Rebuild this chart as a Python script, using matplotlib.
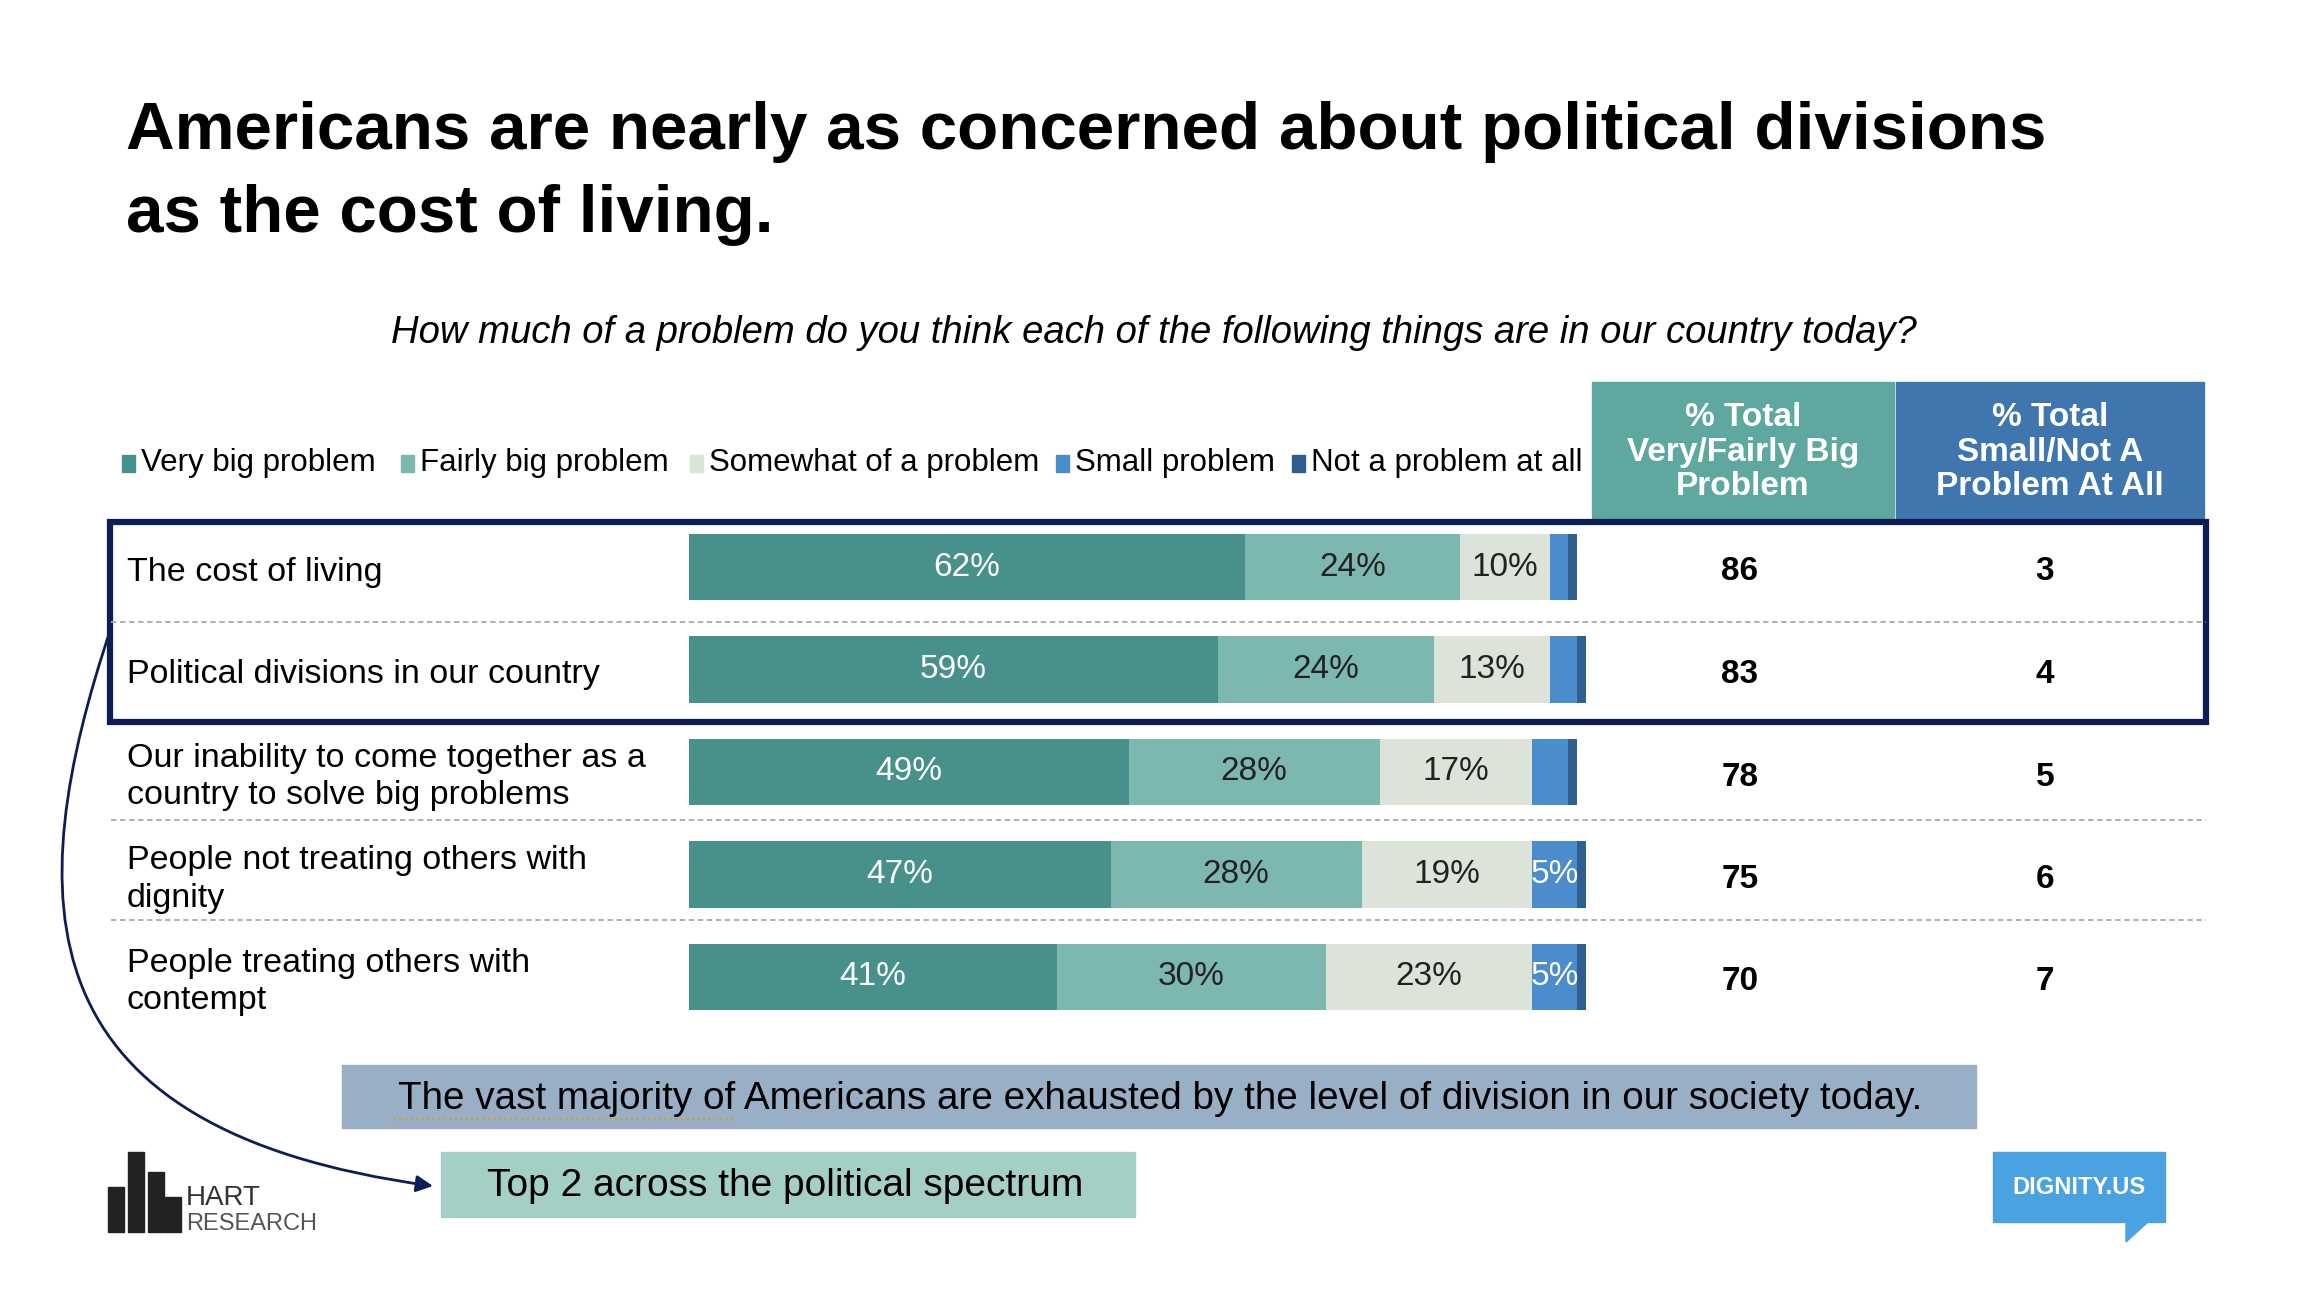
import matplotlib
matplotlib.use("Agg")
import matplotlib.pyplot as plt
from matplotlib.patches import Rectangle, FancyArrowPatch, Polygon
from matplotlib.path import Path
import numpy as np

plt.rcParams['font.family'] = ['Liberation Sans', 'DejaVu Sans']

# Data
items = ["The cost of living",
         "Political divisions in our country",
         "Our inability to come together as a\ncountry to solve big problems",
         "People not treating others with\ndignity",
         "People treating others with\ncontempt"]
series = ["Very big problem", "Fairly big problem", "Somewhat of a problem",
          "Small problem", "Not a problem at all"]
very = [62, 59, 49, 47, 41]
fairly = [24, 24, 28, 28, 30]
somewhat = [10, 13, 17, 19, 23]
small = [2, 3, 4, 5, 5]
not_at_all = [1, 1, 1, 1, 1]
total_big = [86, 83, 78, 75, 70]
total_small = [3, 4, 5, 6, 7]

colors = ["#48918a", "#7db8b0", "#dce3d8", "#4a8ccc", "#2f5f8f"]
label_colors = ["white", "#222222", "#222222", "white", "white"]

W, H = 2310, 1296
fig = plt.figure(figsize=(W / 100, H / 100), dpi=100)
ax0 = fig.add_axes([0, 0, 1, 1])
ax0.set_xlim(0, W)
ax0.set_ylim(H, 0)
ax0.axis("off")

# Title
ax0.text(126, 132, "Americans are nearly as concerned about political divisions",
         fontsize=48.5, fontweight="bold", va="center", ha="left")
ax0.text(126, 215, "as the cost of living.",
         fontsize=48.5, fontweight="bold", va="center", ha="left")
ax0.text(1154, 333, "How much of a problem do you think each of the following things are in our country today?",
         fontsize=27.5, style="italic", va="center", ha="center")

# Legend
leg_x = [122, 401, 690, 1056, 1292]
for x, s, c in zip(leg_x, series, colors):
    ax0.add_patch(Rectangle((x, 455), 13, 17, color=c))
    ax0.text(x + 19, 463, s, fontsize=22.5, va="center", ha="left")

# Header boxes
ax0.add_patch(Rectangle((1592, 382), 302, 136, color="#5fa8a0"))
ax0.add_patch(Rectangle((1896, 382), 308, 136, color="#3f76ae"))
ax0.text(1743, 452, "% Total\nVery/Fairly Big\nProblem", fontsize=24, fontweight="bold",
         color="white", ha="center", va="center", linespacing=1.15)
ax0.text(2050, 452, "% Total\nSmall/Not A\nProblem At All", fontsize=24, fontweight="bold",
         color="white", ha="center", va="center", linespacing=1.15)

# Rows
row_y = 567 + 102.5 * np.arange(len(items))
for i, (lab, y) in enumerate(zip(items, row_y)):
    ax0.text(127, y + 5, lab, fontsize=24.5, va="center", ha="left", linespacing=1.25)
    ax0.text(1740, y + 5, str(total_big[i]), fontsize=24, fontweight="bold", ha="center", va="center")
    ax0.text(2045, y + 5, str(total_small[i]), fontsize=24, fontweight="bold", ha="center", va="center")

for y in [622, 820, 920]:
    ax0.plot([111, 2206], [y, y], color="#aaaaaa", lw=1.3, ls=(0, (3, 2)))

ax0.add_patch(Rectangle((110, 522), 2096, 200, fill=False, ec="#0b1f55", lw=4.5))

# Bars
axb = fig.add_axes([689 / W, 1 - 1028 / H, (1586 - 689) / W, (1028 - 516) / H])
axb.set_xlim(0, 100)
axb.set_ylim(len(items) - 0.5, -0.5)
axb.axis("off")
yy = np.arange(len(items))
left = np.zeros(len(items))
for vals, c, lc in zip([very, fairly, somewhat, small, not_at_all], colors, label_colors):
    vals = np.array(vals, dtype=float)
    axb.barh(yy, vals, left=left, height=0.65, color=c)
    for j, v in enumerate(vals):
        if v >= 5:
            axb.text(left[j] + v / 2, yy[j], f"{int(v)}%", color=lc, fontsize=24,
                     ha="center", va="center")
    left += vals

# Bottom banner
ax0.add_patch(Rectangle((342, 1065), 1634, 63, color="#99afc6"))
ax0.text(1160, 1099, "The vast majority of Americans are exhausted by the level of division in our society today.",
         fontsize=27.8, ha="center", va="center")
ax0.plot([394, 733], [1119, 1119], color="#c9a227", lw=1.5, ls=":")

ax0.add_patch(Rectangle((441, 1152), 694, 65, color="#a3cfc6"))
ax0.text(487, 1186, "Top 2 across the political spectrum", fontsize=28, ha="left", va="center")

# Curved arrow
p = Path([(111, 628), (20, 900), (20, 1130), (433, 1186)],
         [Path.MOVETO, Path.CURVE4, Path.CURVE4, Path.CURVE4])
ax0.add_patch(FancyArrowPatch(path=p, arrowstyle="-|>", mutation_scale=25,
                              color="#0b1f55", lw=2))

# Hart Research logo
for x0, h in [(108, 45), (128, 80), (148, 60), (165, 35)]:
    ax0.add_patch(Rectangle((x0, 1232 - h), 16, h, color="#222222"))
ax0.text(186, 1198, "HART", fontsize=20, ha="left", va="center", color="#333333")
ax0.text(186, 1224, "RESEARCH", fontsize=17, ha="left", va="center", color="#555555")

# Dignity logo
ax0.add_patch(Rectangle((1993, 1152), 172, 70, color="#4aa3e0"))
ax0.add_patch(Polygon([(2126, 1222), (2148, 1222), (2126, 1242)], color="#4aa3e0"))
ax0.text(2079, 1188, "DIGNITY.US", fontsize=17, fontweight="bold", color="white",
         ha="center", va="center")

fig.savefig("out.png", dpi=100)
